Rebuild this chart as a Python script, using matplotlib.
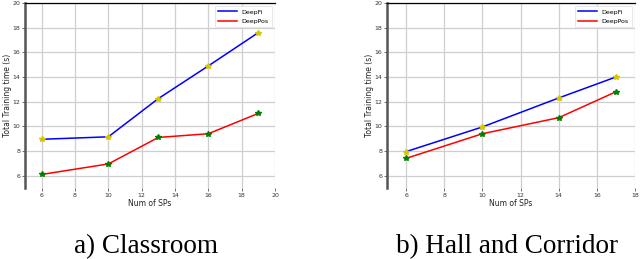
import matplotlib.pyplot as plt

# data
# a) classroom
sps_class = [6, 10, 13, 16, 19]
deepfi_class = [8.95, 9.15, 12.25, 14.9, 17.6]
deeppos_class = [6.1, 6.95, 9.1, 9.4, 11.05]

# b) hall and corridor
sps_hall = [6, 10, 14, 17]
deepfi_hall = [7.95, 9.95, 12.3, 14.0]
deeppos_hall = [7.4, 9.4, 10.7, 12.8]

yticks = [6, 8, 10, 12, 14, 16, 18, 20]
captions = ["a) Classroom", "b) Hall and Corridor"]

fig = plt.figure(figsize=(6.4, 2.59), dpi=100)
ax1 = fig.add_axes([25/640, 71/259, 250/640, 185/259])
ax2 = fig.add_axes([387/640, 71/259, 248/640, 185/259])


def style_axis(ax, xs, fi, pos, xmax, xticks):
    ax.plot(xs, fi, color="blue", lw=1.1, label="DeepFi", zorder=3)
    ax.plot(xs, pos, color="red", lw=1.1, label="DeepPos", zorder=3)
    ax.plot(xs, fi, "*", color="#d4c600", ms=4, zorder=4)
    ax.plot(xs, pos, "*", color="green", ms=4, zorder=4)
    ax.set_xlim(5, xmax)
    ax.set_ylim(5, 20)
    ax.set_xticks(xticks)
    ax.set_yticks(yticks)
    ax.grid(True, color="#cfcfcf", lw=0.9)
    ax.tick_params(labelsize=4.5, length=2, width=0.5, pad=1.5, colors="#333333")
    ax.set_xlabel("Num of SPs", fontsize=5.5, labelpad=1, color="#222222")
    ax.set_ylabel("Total Training time (s)", fontsize=5.5, labelpad=0.5, color="#222222")
    ax.spines["right"].set_visible(False)
    ax.spines["bottom"].set_visible(False)
    ax.spines["left"].set_color("#555555")
    ax.spines["left"].set_linewidth(1.8)
    ax.spines["top"].set_color("black")
    ax.spines["top"].set_linewidth(0.9)
    leg = ax.legend(loc="upper right", fontsize=4.5, handlelength=3, borderpad=0.5,
                    labelspacing=0.6, framealpha=1)
    leg.get_frame().set_linewidth(0.5)
    leg.get_frame().set_edgecolor("#dddddd")


style_axis(ax1, sps_class, deepfi_class, deeppos_class, 20, [6, 8, 10, 12, 14, 16, 18, 20])
style_axis(ax2, sps_hall, deepfi_hall, deeppos_hall, 18, [6, 8, 10, 12, 14, 16, 18])

fig.text(146/640, 12/259, captions[0], ha="center", va="center",
         fontsize=19.5, family="Liberation Serif")
fig.text(507/640, 12/259, captions[1], ha="center", va="center",
         fontsize=19.5, family="Liberation Serif")

fig.savefig("out.png", dpi=100)
